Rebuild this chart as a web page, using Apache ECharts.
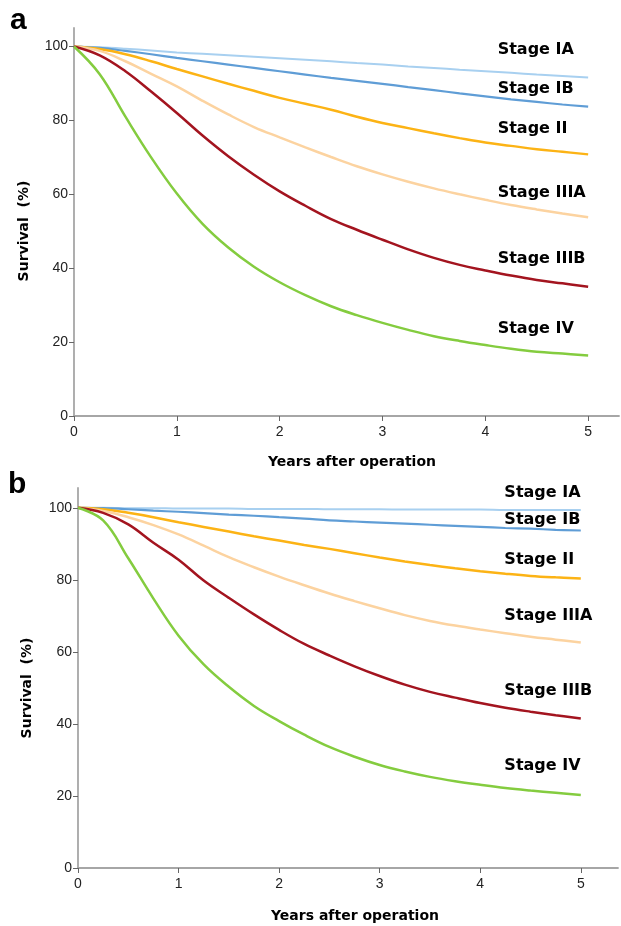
<!DOCTYPE html>
<html><head><meta charset="utf-8">
<script src="https://cdn.jsdelivr.net/npm/echarts@6/dist/echarts.min.js"></script>
<style>html,body{margin:0;padding:0;background:#fff}#c{width:621px;height:926px}</style>
</head><body><div id="c"></div>
<script>
// time grid (years after operation)
const years = [0, 0.25, 0.5, 0.75, 1, 1.25, 1.5, 1.75, 2, 2.25, 2.5, 2.75, 3, 3.25, 3.5, 3.75, 4, 4.25, 4.5, 4.75, 5];
const stageNames = ['Stage IA', 'Stage IB', 'Stage II', 'Stage IIIA', 'Stage IIIB', 'Stage IV'];

// panel a survival (%)
const a_IA   = [100, 99.8, 99.4, 98.9, 98.4, 98.0, 97.6, 97.2, 96.8, 96.4, 96.0, 95.5, 95.1, 94.6, 94.2, 93.7, 93.3, 92.9, 92.4, 92.0, 91.6];
const a_IB   = [100, 99.6, 98.8, 97.9, 96.9, 96.0, 95.1, 94.2, 93.3, 92.4, 91.5, 90.7, 89.9, 89.0, 88.2, 87.3, 86.5, 85.7, 85.0, 84.3, 83.7];
const a_II   = [100, 99.3, 97.9, 96.0, 93.9, 91.9, 89.9, 88.0, 86.1, 84.5, 82.9, 81.0, 79.3, 77.9, 76.5, 75.2, 74.0, 73.1, 72.2, 71.5, 70.8];
const a_IIIA = [100, 98.8, 96.0, 92.6, 89.2, 85.3, 81.6, 78.2, 75.4, 72.7, 70.1, 67.6, 65.4, 63.4, 61.6, 60.0, 58.5, 57.1, 55.9, 54.8, 53.8];
const a_IIIB = [100, 97.6, 93.3, 87.8, 82.0, 75.9, 70.3, 65.3, 60.8, 56.9, 53.3, 50.4, 47.7, 45.1, 42.8, 40.9, 39.4, 38.0, 36.8, 35.9, 35.0];
const a_IV   = [100, 92.5, 81.0, 70.0, 60.2, 52.0, 45.6, 40.4, 36.2, 32.7, 29.7, 27.3, 25.2, 23.3, 21.6, 20.3, 19.2, 18.2, 17.4, 16.9, 16.4];

// panel b survival (%)
const b_IA   = [100, 100, 99.9, 99.9, 99.8, 99.8, 99.8, 99.7, 99.7, 99.7, 99.6, 99.6, 99.6, 99.5, 99.5, 99.5, 99.5, 99.4, 99.4, 99.4, 99.4];
const b_IB   = [100, 99.9, 99.6, 99.2, 98.9, 98.5, 98.1, 97.8, 97.4, 97.0, 96.5, 96.2, 95.9, 95.6, 95.3, 95.0, 94.7, 94.4, 94.2, 93.9, 93.7];
const b_II   = [100, 99.6, 98.6, 97.4, 96.0, 94.7, 93.4, 92.1, 90.9, 89.7, 88.6, 87.4, 86.2, 85.1, 84.1, 83.2, 82.4, 81.7, 81.1, 80.7, 80.4];
const b_IIIA = [100, 99.1, 97.4, 95.2, 92.6, 89.5, 86.3, 83.5, 80.9, 78.5, 76.2, 74.1, 72.1, 70.2, 68.6, 67.3, 66.2, 65.2, 64.2, 63.4, 62.6];
const b_IIIB = [100, 98.6, 95.4, 90.3, 85.6, 79.8, 75.0, 70.4, 66.1, 62.2, 59.0, 56.0, 53.3, 50.9, 48.9, 47.3, 45.8, 44.5, 43.4, 42.4, 41.5];
const b_IV   = [100, 96.5, 86.0, 74.8, 64.5, 56.5, 50.3, 45.0, 40.8, 37.0, 33.6, 30.9, 28.6, 26.8, 25.3, 24.1, 23.1, 22.2, 21.5, 20.9, 20.3];

// axis ticks
const xTicks = [0, 1, 2, 3, 4, 5];
const yTicks = [0, 20, 40, 60, 80, 100];

// stage label anchors (data units: year, survival %)
const a_labelX = 4.12;
const a_labelY = [99.1, 88.5, 77.7, 60.4, 42.5, 23.5];
const b_labelX = 4.24;
const b_labelY = [104.2, 96.6, 85.6, 70.1, 49.1, 28.4];

const colors = ['#a8d0f0', '#5f9dd6', '#fcb315', '#fcd3a0', '#a3141f', '#84cc3f'];
const widths = [2, 2.2, 2.5, 2.5, 2.5, 2.5];

const panelA = [a_IA, a_IB, a_II, a_IIIA, a_IIIB, a_IV];
const panelB = [b_IA, b_IB, b_II, b_IIIA, b_IIIB, b_IV];

const axisGrey = '#a6a6a6';
const tickFont = { fontSize: 14, color: '#222', fontFamily: 'Liberation Sans, Arial, sans-serif' };
function xAx(idx, max) {
  return {
    type: 'value', gridIndex: idx, min: 0, max: max,
    axisLine: { show: true, lineStyle: { color: axisGrey, width: 1.8 } },
    axisTick: { show: true, length: 5, customValues: xTicks, lineStyle: { color: '#666', width: 1 } },
    axisLabel: Object.assign({ customValues: xTicks, margin: 9 }, tickFont),
    splitLine: { show: false }
  };
}
function yAx(idx, max) {
  return {
    type: 'value', gridIndex: idx, min: 0, max: max,
    axisLine: { show: true, lineStyle: { color: axisGrey, width: 1.8 } },
    axisTick: { show: true, length: 5, customValues: yTicks, lineStyle: { color: '#666', width: 1 } },
    axisLabel: Object.assign({ customValues: yTicks, margin: 6 }, tickFont),
    splitLine: { show: false }
  };
}

const series = [];
function addPanel(idx, data, lx, ly) {
  data.forEach((vals, i) => {
    series.push({
      type: 'line', xAxisIndex: idx, yAxisIndex: idx, name: stageNames[i],
      data: years.map((t, k) => [t, vals[k]]),
      smooth: 0.4, showSymbol: false, symbol: 'none',
      lineStyle: { color: colors[i], width: widths[i] }, z: 2 + i
    });
  });
  series.push({
    type: 'scatter', xAxisIndex: idx, yAxisIndex: idx, symbolSize: 0, silent: true,
    itemStyle: { opacity: 1 },
    data: stageNames.map((n, i) => ({ value: [lx, ly[i]], name: n })),
    label: { show: true, position: [0, 0], align: 'left', verticalAlign: 'middle',
      formatter: p => p.name, fontFamily: 'DejaVu Sans', fontWeight: 'bold', fontSize: 16, color: '#000' }
  });
}
addPanel(0, panelA, a_labelX, a_labelY);
addPanel(1, panelB, b_labelX, b_labelY);

const titleStyle = { fontFamily: 'DejaVu Sans', fontWeight: 'bold', fontSize: 14, fill: '#000' };
const chart = echarts.init(document.getElementById('c'), null, { renderer: 'canvas' });
chart.setOption({
  animation: false,
  backgroundColor: '#fff',
  grid: [
    { left: 74, top: 28, width: 545, height: 388 },
    { left: 78, top: 488, width: 540, height: 380 }
  ],
  xAxis: [xAx(0, 5.3), xAx(1, 5.37)],
  yAxis: [yAx(0, 105), yAx(1, 105.5)],
  series: series,
  graphic: [
    { type: 'text', left: 10, top: 6, style: { text: 'a', fontFamily: 'Liberation Sans', fontWeight: 'bold', fontSize: 30, fill: '#000' } },
    { type: 'text', left: 8, top: 470, style: { text: 'b', fontFamily: 'Liberation Sans', fontWeight: 'bold', fontSize: 30, fill: '#000' } },
    { type: 'text', x: 352, y: 462, style: Object.assign({ text: 'Years after operation', align: 'center', verticalAlign: 'middle' }, titleStyle) },
    { type: 'text', x: 355, y: 916, style: Object.assign({ text: 'Years after operation', align: 'center', verticalAlign: 'middle' }, titleStyle) },
    { type: 'text', x: 24, y: 231, rotation: Math.PI / 2, style: Object.assign({ text: 'Survival  (%)', align: 'center', verticalAlign: 'middle' }, titleStyle) },
    { type: 'text', x: 27, y: 688, rotation: Math.PI / 2, style: Object.assign({ text: 'Survival  (%)', align: 'center', verticalAlign: 'middle' }, titleStyle) }
  ]
});
</script>
</body></html>
